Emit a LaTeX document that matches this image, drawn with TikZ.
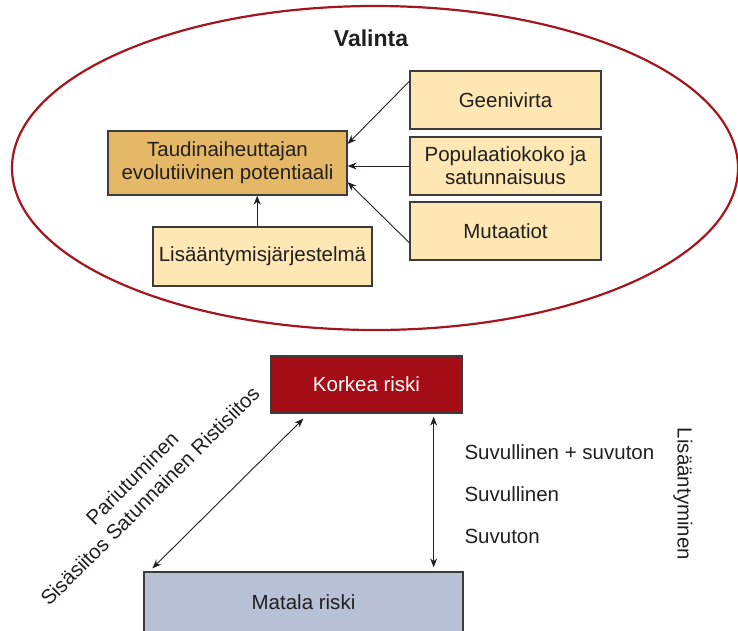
\documentclass[tikz,border=0pt]{standalone}
\usepackage{fontspec}
\setmainfont{Liberation Sans}
\usepackage{tikz}
\usetikzlibrary{positioning,arrows.meta,calc}
\definecolor{ink}{HTML}{231F20}
\definecolor{frame}{HTML}{3C3C3C}
\definecolor{selred}{HTML}{A3151F}
\definecolor{gold}{HTML}{E4B866}
\definecolor{cream}{HTML}{FEE7B2}
\definecolor{riskred}{HTML}{A50D16}
\definecolor{riskblue}{HTML}{B8C0D5}
\tikzset{
  box/.style={rectangle,draw=frame,line width=1.3pt,align=center,text=ink,
    font=\fontsize{20.5}{23}\selectfont,inner sep=0pt},
  boxg/.style={box,fill=gold},
  boxc/.style={box,fill=cream},
  ar/.style={-{Stealth[length=9pt,width=7pt]},line width=0.9pt,draw=ink},
  arr/.style={{Stealth[length=9pt,width=7pt]}-{Stealth[length=9pt,width=7pt]},line width=0.9pt,draw=ink},
  lbl/.style={font=\fontsize{20.5}{25}\selectfont,text=ink},
}

\begin{document}
\begin{tikzpicture}[x=1pt,y=-1pt]
  \useasboundingbox (0,0) rectangle (738,630);
  % selection ellipse
  \draw[selred,line width=2.2pt] (375,168) ellipse [x radius=363pt,y radius=162pt];
  \node[font=\fontsize{23}{26}\selectfont\bfseries,text=ink] (valinta) at (371,38) {Valinta};
  \node[boxg,minimum width=239pt,minimum height=64pt] (taud) at (227.5,163) {Taudinaiheuttajan\\evolutiivinen potentiaali};
  \node[boxc,minimum width=219pt,minimum height=59pt] (lisa) at (262.5,256.5) {Lisääntymisjärjestelmä};
  \node[boxc,minimum width=191pt,minimum height=58pt] (geeni) at (505.5,100) {Geenivirta};
  \node[boxc,minimum width=191pt,minimum height=58pt] (popul) at (505.5,166) {Populaatiokoko ja\\satunnaisuus};
  \node[boxc,minimum width=191pt,minimum height=58pt] (muta) at (505.5,231) {Mutaatiot};
  \draw[ar] (geeni.169) -- (taud.9);
  \draw[ar] (popul.west) -- (popul.west -| taud.east);
  \draw[ar] (muta.187) -- (taud.-9);
  \draw[ar] (lisa.100) -- (lisa.100 |- taud.south);
  % risk levels
  \node[box,fill=riskred,text=white,minimum width=191pt,minimum height=57pt] (korkea) at (366.5,384.5) {Korkea riski};
  \node[box,fill=riskblue,minimum width=319pt,minimum height=60pt] (matala) at (303.5,602) {Matala riski};
  \coordinate (k1) at ($(korkea.south west)+(33,5)$);
  \coordinate (m1) at ($(matala.north west)+(9,-3)$);
  \draw[arr] (k1) -- (m1);
  \coordinate (k2) at ($(korkea.south -| matala.east)+(-30,3)$);
  \coordinate (m2) at ($(k2 |- matala.north)+(0,-4)$);
  \draw[arr] (k2) -- (m2);
  \node[lbl,rotate=45,align=center] (pari) at (141,487) {Pariutuminen\\Sisäsiitos Satunnainen Ristisiitos};
  \node[lbl,anchor=west] (s1) at (461,452) {Suvullinen + suvuton};
  \node[lbl,anchor=west] (s2) at (461,494) {Suvullinen};
  \node[lbl,anchor=west] (s3) at (461,536) {Suvuton};
  \node[lbl,rotate=-90] (lis) at (683,494) {Lisääntyminen};
\end{tikzpicture}
\end{document}
